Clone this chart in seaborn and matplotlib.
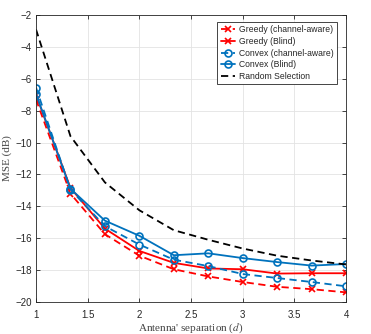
import numpy as np
import pandas as pd
import seaborn as sns
import matplotlib.pyplot as plt

# antenna separation values (x axis)
separation = [1, 4/3, 5/3, 2, 7/3, 8/3, 3, 10/3, 11/3, 4]

greedy_aware = [-7.3, -13.2, -15.75, -17.1, -17.95, -18.4, -18.75, -19.05, -19.2, -19.4]
greedy_blind = [-7.0, -12.85, -15.4, -16.8, -17.55, -17.9, -17.95, -18.22, -18.2, -18.2]
convex_aware = [-6.55, -12.95, -15.25, -16.4, -17.35, -17.75, -18.25, -18.5, -18.75, -19.02]
convex_blind = [-6.95, -12.9, -14.9, -15.85, -17.07, -16.95, -17.25, -17.5, -17.72, -17.62]
random_sel = [-2.9, -9.6, -12.5, -14.25, -15.5, -16.1, -16.65, -17.1, -17.4, -17.65]

xticks = [1, 1.5, 2, 2.5, 3, 3.5, 4]
yticks = list(range(-20, -1, 2))

sns.set_style("ticks")
plt.rcParams['font.family'] = ['Liberation Sans', 'DejaVu Sans']
plt.rcParams['mathtext.fontset'] = 'stix'

red = "#ff0000"
blue = "#0072bd"

fig = plt.figure(figsize=(3.71, 3.34), dpi=100)
ax = fig.add_axes([0.097, 0.096, 0.836, 0.859])

series = [
    ("Greedy (channel-aware)", greedy_aware, red, "--", "x"),
    ("Greedy (Blind)", greedy_blind, red, "-", "x"),
    ("Convex (channel-aware)", convex_aware, blue, "--", "o"),
    ("Convex (Blind)", convex_blind, blue, "-", "o"),
]
for label, vals, col, ls, mk in series:
    df = pd.DataFrame({"d": separation, "mse": vals})
    sns.lineplot(data=df, x="d", y="mse", ax=ax, color=col, linestyle=ls,
                 marker=mk, markersize=5, markeredgewidth=1.2,
                 markerfacecolor="none", markeredgecolor=col,
                 linewidth=1.3, label=label)
    if ls == "--":
        ax.lines[-1].set_dashes([4, 2.5])

df = pd.DataFrame({"d": separation, "mse": random_sel})
sns.lineplot(data=df, x="d", y="mse", ax=ax, color="black", linestyle="--",
             linewidth=1.3, label="Random Selection")
ax.lines[-1].set_dashes([4, 2.5])

ax.set_xlim(1, 4)
ax.set_ylim(-20, -2)
ax.set_xticks(xticks)
ax.set_xticklabels(["1", "1.5", "2", "2.5", "3", "3.5", "4"])
ax.set_yticks(yticks)
ax.grid(True, color="#e3e3e3", linewidth=0.6)
ax.tick_params(direction="in", top=True, right=True, labelsize=7,
               length=3, width=0.6, colors="#262626")
ax.tick_params(axis="y", pad=3)
ax.tick_params(axis="x", pad=6)
for s in ax.spines.values():
    s.set_linewidth(0.6)
    s.set_color("#262626")
    s.set_visible(True)

ax.set_xlabel("Antenna' separation ($d$)", family="Liberation Serif",
              fontsize=8, color="#444444", labelpad=1)
ax.set_ylabel("MSE (dB)", family="Liberation Serif", fontsize=8,
              color="#444444", labelpad=2)

leg = ax.legend(loc="upper right", fontsize=6.2, handlelength=1.6,
                handletextpad=0.5, borderpad=0.4, labelspacing=0.3,
                fancybox=False, framealpha=1, edgecolor="#262626",
                borderaxespad=0, bbox_to_anchor=(0.971, 0.976))
leg.get_frame().set_linewidth(0.6)

fig.savefig("out.png", dpi=100)
